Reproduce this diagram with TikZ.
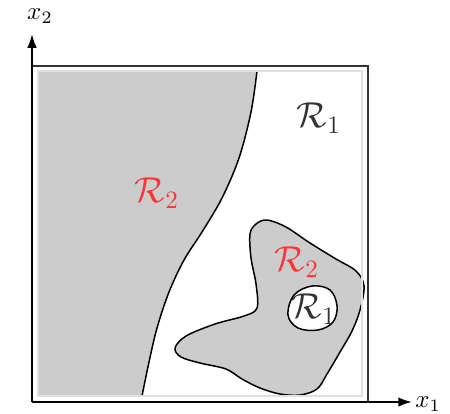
\documentclass[tikz,border=0pt]{standalone}
\usepackage{amsmath,amssymb}
\usetikzlibrary{arrows.meta}

\tikzset{
  regfill/.style={fill=black!20},
  regline/.style={line width=0.6pt,black},
  axisline/.style={line width=0.75pt,-{Latex[length=5.5pt,width=3.8pt]}},
  redlbl/.style={text=red!80,font=\Large},
  blklbl/.style={text=black!80,font=\Large}
}

\begin{document}
\begin{tikzpicture}[x=0.4pt,y=-0.4pt]
  \useasboundingbox (0,0) rectangle (450,413);
  % left region R2
  \fill[regfill] (38,71) -- plot[smooth,tension=0.55] coordinates {(257,71) (251,112) (239,158) (222,198) (202,232) (184,260) (169,292) (157,328) (149,362) (142,396)} -- (38,396) -- cycle;
  \draw[regline] plot[smooth,tension=0.55] coordinates {(257,71) (251,112) (239,158) (222,198) (202,232) (184,260) (169,292) (157,328) (149,362) (142,396)};
  % blob R2 with hole R1
  \draw[regline,regfill,even odd rule]
    plot[smooth cycle,tension=0.55] coordinates {(250,234) (256,224) (267,220) (286,227) (310,243) (336,259) (356,271) (364,286) (360,310) (352,331) (340,352) (327,374) (317,389) (300,395) (280,394) (260,388) (242,379) (226,369) (200,363) (181,357) (175,348) (186,336) (215,324) (244,316) (257,308) (256,284) (251,258)}
    plot[smooth cycle,tension=0.6] coordinates {(288,315) (294,295) (312,286) (330,290) (337,306) (333,322) (318,330) (298,328)};
  % frames
  \draw[black!12,line width=0.5pt] (38,71) rectangle (362,396);
  \draw[black!80,line width=0.6pt] (32,66) -- (368,66) -- (368,402);
  % axes
  \coordinate (o) at (32,402);
  \coordinate (xend) at (412,402);
  \coordinate (yend) at (32,34);
  \draw[axisline] (o) -- (xend);
  \draw[axisline] (o) -- (yend);
  \node (xlbl) at (428,404) {$x_1$};
  \node (ylbl) at (40,16) {$x_2$};
  % labels
  \node[redlbl] (rtwoa) at (157,193) {$\mathcal{R}_2$};
  \node[redlbl] (rtwob) at (297,262) {$\mathcal{R}_2$};
  \node[blklbl] (ronea) at (319,118) {$\mathcal{R}_1$};
  \node[blklbl] (roneb) at (314,309) {$\mathcal{R}_1$};
\end{tikzpicture}
\end{document}
